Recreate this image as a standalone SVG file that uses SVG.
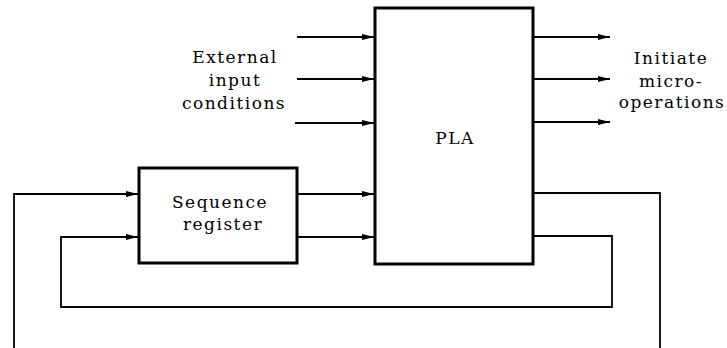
<svg xmlns="http://www.w3.org/2000/svg" width="727" height="348" viewBox="0 0 727 348">
<defs>
<marker id="ah" viewBox="0 0 12 6" refX="12" refY="3" markerWidth="12" markerHeight="6" markerUnits="userSpaceOnUse" orient="auto">
<path d="M0,0 L12,3 L0,6 Z" fill="#000"/>
</marker>
<style>
.box{fill:#fff;stroke:#000;stroke-width:3}
.ln{fill:none;stroke:#000;stroke-width:1.8}
.arr{fill:none;stroke:#000;stroke-width:1.8;marker-end:url(#ah)}
.t{font-family:'DejaVu Serif','Liberation Serif',serif;font-size:17px;fill:#000;text-anchor:middle;letter-spacing:1.5px}
</style>
</defs>
<g id="connectors">
<line class="arr" x1="297" y1="37" x2="374" y2="37"/>
<line class="arr" x1="297" y1="79" x2="374" y2="79"/>
<line class="arr" x1="295" y1="123" x2="374" y2="123"/>
<line class="arr" x1="534" y1="37" x2="610" y2="37"/>
<line class="arr" x1="534" y1="79" x2="610" y2="79"/>
<line class="arr" x1="534" y1="122" x2="610" y2="122"/>
<line class="arr" x1="298" y1="194" x2="374" y2="194"/>
<line class="arr" x1="298" y1="237" x2="374" y2="237"/>
<polyline class="ln" points="534,193 660,193 660,348"/>
<polyline class="arr" points="534,236 612,236 612,307 61,307 61,237 138,237"/>
<polyline class="arr" points="14,348 14,194 138,194"/>
</g>
<g id="pla">
<rect class="box" x="375" y="8" width="158" height="256"/>
<text class="t" x="455" y="144">PLA</text>
</g>
<g id="sequence-register">
<rect class="box" x="139" y="168" width="158" height="95"/>
<text class="t" x="220" y="208">Sequence</text>
<text class="t" x="223" y="230">register</text>
</g>
<g id="external-label">
<text class="t" x="235" y="63">External</text>
<text class="t" x="235" y="86">input</text>
<text class="t" x="234" y="109">conditions</text>
</g>
<g id="initiate-label">
<text class="t" x="671" y="64">Initiate</text>
<text class="t" x="671" y="87">micro-</text>
<text class="t" x="672" y="108">operations</text>
</g>
</svg>
